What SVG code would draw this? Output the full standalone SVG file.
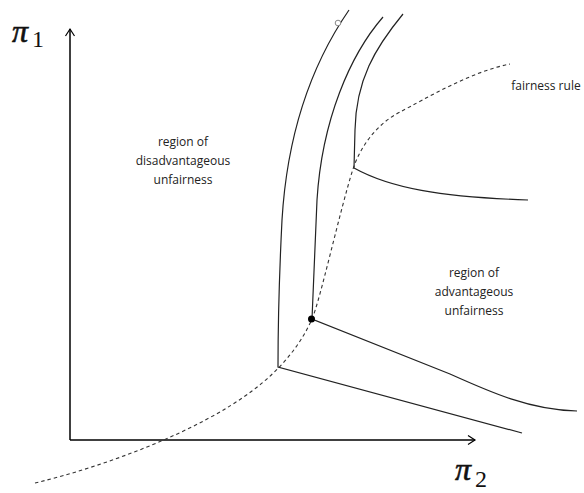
<svg xmlns="http://www.w3.org/2000/svg" width="584" height="493" viewBox="0 0 584 493">
<style>
.ax{fill:none;stroke:#000;stroke-width:1.5}
.ah{fill:none;stroke:#000;stroke-width:1.2}
.cv{fill:none;stroke:#222;stroke-width:1.2}
.ds{fill:none;stroke:#333;stroke-width:1.1;stroke-dasharray:3.5,3}
.lb{font-family:"Open Sans","Liberation Sans",Arial,sans-serif;font-size:12px;fill:#222;text-anchor:middle}
.pi{font-family:"Liberation Serif","Times New Roman",serif;font-style:italic;fill:#111;stroke:#111;stroke-width:0.6}
.sub{font-family:"Liberation Serif","Times New Roman",serif;fill:#111}
</style>
<rect width="584" height="493" fill="#fff"/>
<g id="axes">
<line class="ax" x1="70" y1="440" x2="70" y2="29"/>
<polyline class="ah" points="65.5,36 70,29 74.5,36"/>
<line class="ax" x1="70" y1="440" x2="475" y2="440"/>
<polyline class="ah" points="468,435.5 475,440 468,444.5"/>
</g>
<g id="labels">
<text class="pi" x="12" y="42" font-size="32">π</text>
<text class="sub" x="32" y="47" font-size="24">1</text>
<text class="pi" x="455" y="480" font-size="32">π</text>
<text class="sub" x="475" y="487" font-size="24">2</text>
</g>
<g id="connectors">
<path class="ds" d="M35,483 C110,465 200,430 252,391 C283,368 302,342 312,319 C320,301 340,210 353,169 C360,148 375,125 400,112 C425,99 470,72 510,64"/>
<path class="cv" d="M349,10 C318,55 288,120 282,220 C280,260 278,320 278,367 L522,433"/>
<path class="cv" d="M383,17 C350,55 322,120 317,200 L312,319 L450,374 C490,392 530,410 577,411"/>
<path class="cv" d="M403,14 C375,48 356,80 355,130 L354,168 C390,188 440,197 528,200"/>
</g>
<g id="point">
<circle cx="311.5" cy="319" r="3.5" fill="#000"/>
</g>
<g id="marker">
<circle cx="338" cy="23" r="2.8" fill="#fff" stroke="#888" stroke-width="1"/>
</g>
<g id="fairness-rule"><text class="lb" x="546" y="90">fairness rule</text></g>
<g id="disadvantageous">
<text class="lb" x="183" y="146">region of</text>
<text class="lb" x="183" y="165">disadvantageous</text>
<text class="lb" x="183" y="184">unfairness</text>
</g>
<g id="advantageous">
<text class="lb" x="474" y="277">region of</text>
<text class="lb" x="474" y="296">advantageous</text>
<text class="lb" x="474" y="315">unfairness</text>
</g>
</svg>
